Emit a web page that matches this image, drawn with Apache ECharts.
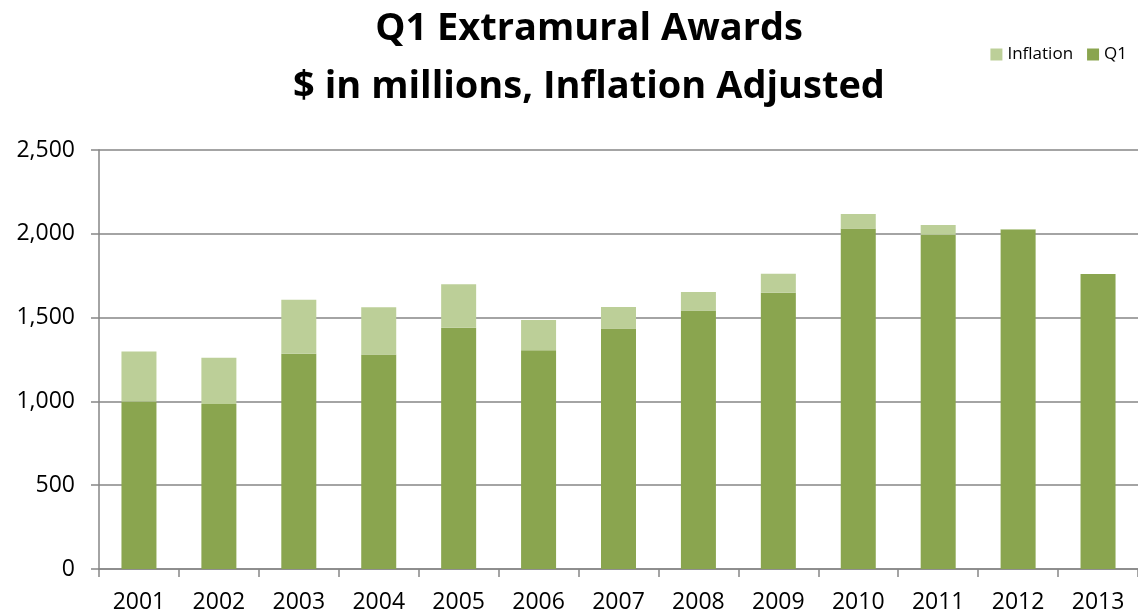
<!DOCTYPE html>
<html>
<head>
<meta charset="utf-8">
<script src="https://cdn.jsdelivr.net/npm/echarts@6/dist/echarts.min.js"></script>
<style>
  html, body { margin: 0; padding: 0; background: #fff; }
  #main { width: 1138px; height: 615px; }
</style>
</head>
<body>
<div id="main"></div>
<script>
// data
const years = ['2001', '2002', '2003', '2004', '2005', '2006', '2007', '2008', '2009', '2010', '2011', '2012', '2013'];
const q1 = [1000, 985, 1285, 1280, 1440, 1305, 1435, 1542, 1648, 2032, 1995, 2025, 1760];
const inflation = [297, 275, 322, 282, 259, 180, 128, 110, 114, 86, 58, 4, 0];

const fontFamily = "'Open Sans', 'Noto Sans', sans-serif";

const chart = echarts.init(document.getElementById('main'));

const option = {
  animation: false,
  textStyle: { fontFamily: fontFamily },
  title: {
    text: 'Q1 Extramural Awards\n$ in millions, Inflation Adjusted',
    left: 584,
    top: -5,
    textAlign: 'center',
    textStyle: {
      fontFamily: fontFamily,
      fontSize: 38,
      fontWeight: 'bold',
      color: '#000',
      lineHeight: 58
    }
  },
  legend: {
    right: 6,
    top: 41,
    itemWidth: 12,
    itemHeight: 12,
    itemGap: 14,
    icon: 'rect',
    textStyle: { fontSize: 17, color: '#000', fontFamily: fontFamily },
    data: ['Inflation', 'Q1']
  },
  grid: { left: 99, right: 0, top: 150, bottom: 46, containLabel: false },
  xAxis: {
    type: 'category',
    data: years,
    axisLine: { lineStyle: { color: '#868686', width: 1.5 } },
    axisTick: { show: true, length: 8, lineStyle: { color: '#868686', width: 1.5 } },
    axisLabel: { color: '#000', fontSize: 23, margin: 22, fontFamily: fontFamily }
  },
  yAxis: {
    type: 'value',
    min: 0,
    max: 2500,
    interval: 500,
    axisLine: { show: true, lineStyle: { color: '#868686', width: 1.5 } },
    axisTick: { show: true, length: 8, lineStyle: { color: '#868686', width: 1.5 } },
    splitLine: { lineStyle: { color: '#868686', width: 1.5 } },
    axisLabel: {
      color: '#000',
      fontSize: 23,
      margin: 24,
      fontFamily: fontFamily,
      formatter: function (v) { return v.toLocaleString('en-US'); }
    }
  },
  series: [
    {
      name: 'Q1',
      type: 'bar',
      stack: 'total',
      barWidth: 35,
      itemStyle: { color: '#8AA54F' },
      data: q1
    },
    {
      name: 'Inflation',
      type: 'bar',
      stack: 'total',
      barWidth: 35,
      itemStyle: { color: '#BCCF98' },
      data: inflation
    }
  ]
};

chart.setOption(option);
</script>
</body>
</html>
